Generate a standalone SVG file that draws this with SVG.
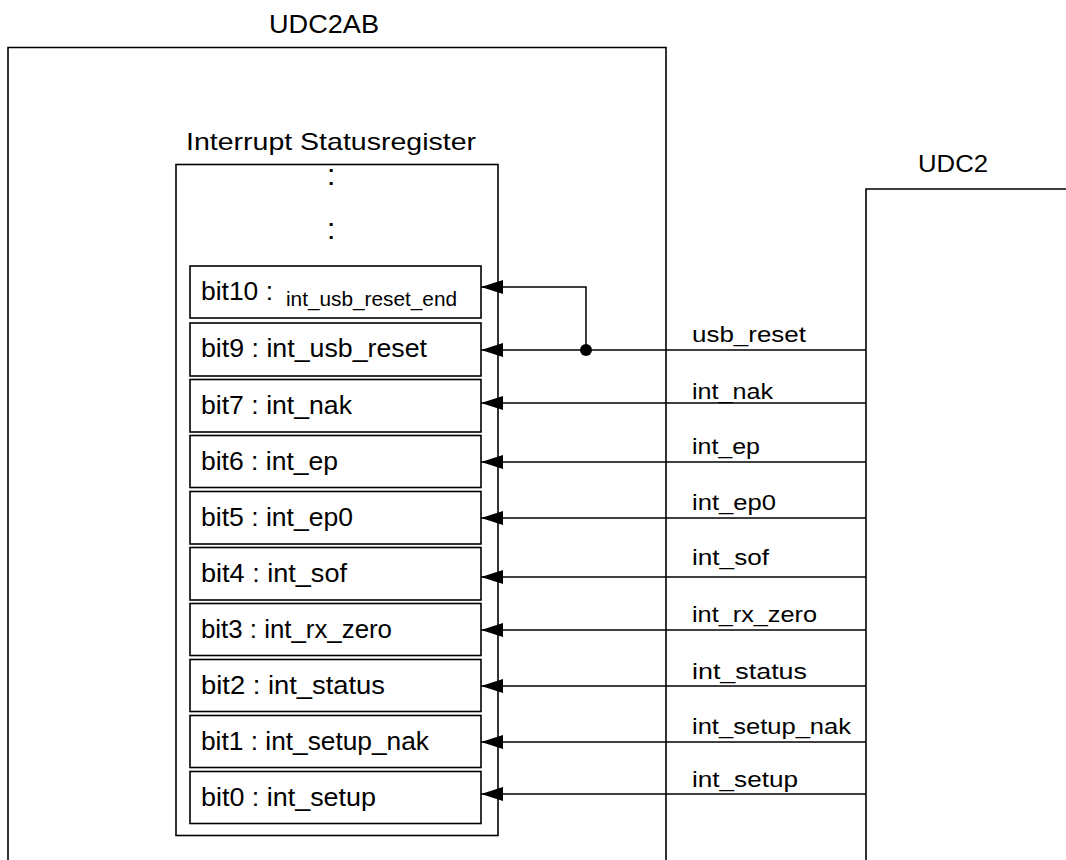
<svg xmlns="http://www.w3.org/2000/svg" width="1066" height="860" viewBox="0 0 1066 860">
<style>
.box{fill:none;stroke:#000;stroke-width:1.6}
.frame{fill:none;stroke:#000;stroke-width:1.6}
.wire{fill:none;stroke:#000;stroke-width:1.5;marker-end:url(#ah)}
.t{font-family:"Liberation Sans",Arial,sans-serif;fill:#000}
.bl{font-size:25px}
.sl{font-size:22px}
.ti{font-size:24px}
.sm{font-size:20px}
</style>
<defs>
<marker id="ah" markerUnits="userSpaceOnUse" markerWidth="22" markerHeight="14" viewBox="0 0 22 14" refX="22" refY="7" orient="auto">
<path d="M0,0 L22,7 L0,14 z" fill="#000"/>
</marker>
</defs>
<rect width="1066" height="860" fill="#fff"/>

<g id="udc2ab">
<path class="frame" d="M8,861 V47.5 H666 V861"/>
<text class="t" x="269" y="33" style="font-size:26px" textLength="110" lengthAdjust="spacingAndGlyphs">UDC2AB</text>
</g>

<g id="udc2">
<path class="frame" d="M866,861 V189 H1067"/>
<text class="t ti" x="918" y="172" textLength="70" lengthAdjust="spacingAndGlyphs">UDC2</text>
</g>

<g id="register">
<rect class="box" x="176" y="164.5" width="322" height="671"/>
<text class="t ti" x="186" y="150" textLength="290" lengthAdjust="spacingAndGlyphs">Interrupt Statusregister</text>
<text class="t" x="327" y="185" style="font-size:30px">:</text>
<text class="t" x="327" y="239" style="font-size:30px">:</text>
</g>

<g id="bit10">
<rect class="box" x="190" y="266" width="291" height="52"/>
<text class="t bl" x="201" y="300" textLength="72" lengthAdjust="spacingAndGlyphs">bit10 :</text>
<text class="t sm" x="286" y="306" textLength="171" lengthAdjust="spacingAndGlyphs">int_usb_reset_end</text>
</g>
<g id="bit9">
<rect class="box" x="190" y="323" width="291" height="53"/>
<text class="t bl" x="201" y="357" textLength="226" lengthAdjust="spacingAndGlyphs">bit9 : int_usb_reset</text>
</g>
<g id="bit7">
<rect class="box" x="190" y="379.5" width="291" height="52.5"/>
<text class="t bl" x="201" y="413.5" textLength="151" lengthAdjust="spacingAndGlyphs">bit7 : int_nak</text>
</g>
<g id="bit6">
<rect class="box" x="190" y="435.5" width="291" height="52"/>
<text class="t bl" x="201" y="469.5" textLength="137" lengthAdjust="spacingAndGlyphs">bit6 : int_ep</text>
</g>
<g id="bit5">
<rect class="box" x="190" y="491.5" width="291" height="52.5"/>
<text class="t bl" x="201" y="525.5" textLength="152" lengthAdjust="spacingAndGlyphs">bit5 : int_ep0</text>
</g>
<g id="bit4">
<rect class="box" x="190" y="547.5" width="291" height="52.5"/>
<text class="t bl" x="201" y="581.5" textLength="146" lengthAdjust="spacingAndGlyphs">bit4 : int_sof</text>
</g>
<g id="bit3">
<rect class="box" x="190" y="603.5" width="291" height="52"/>
<text class="t bl" x="201" y="637.5" textLength="191" lengthAdjust="spacingAndGlyphs">bit3 : int_rx_zero</text>
</g>
<g id="bit2">
<rect class="box" x="190" y="659.5" width="291" height="52"/>
<text class="t bl" x="201" y="693.5" textLength="184" lengthAdjust="spacingAndGlyphs">bit2 : int_status</text>
</g>
<g id="bit1">
<rect class="box" x="190" y="715.5" width="291" height="52"/>
<text class="t bl" x="201" y="749.5" textLength="228" lengthAdjust="spacingAndGlyphs">bit1 : int_setup_nak</text>
</g>
<g id="bit0">
<rect class="box" x="190" y="771.5" width="291" height="52"/>
<text class="t bl" x="201" y="805.5" textLength="175" lengthAdjust="spacingAndGlyphs">bit0 : int_setup</text>
</g>

<g id="connectors">
<path class="wire" d="M866,350 H481"/>
<path class="wire" d="M586,350 V287 H481"/>
<circle cx="586" cy="350" r="6" fill="#000"/>
<path class="wire" d="M866,403 H481"/>
<path class="wire" d="M866,462 H481"/>
<path class="wire" d="M866,518 H481"/>
<path class="wire" d="M866,577 H481"/>
<path class="wire" d="M866,630 H481"/>
<path class="wire" d="M866,686 H481"/>
<path class="wire" d="M866,742 H481"/>
<path class="wire" d="M866,794 H481"/>
<text class="t sl" x="692" y="342" textLength="114" lengthAdjust="spacingAndGlyphs">usb_reset</text>
<text class="t sl" x="692" y="398.5" textLength="81" lengthAdjust="spacingAndGlyphs">int_nak</text>
<text class="t sl" x="692" y="453.5" textLength="68" lengthAdjust="spacingAndGlyphs">int_ep</text>
<text class="t sl" x="692" y="510" textLength="84" lengthAdjust="spacingAndGlyphs">int_ep0</text>
<text class="t sl" x="692" y="565" textLength="77" lengthAdjust="spacingAndGlyphs">int_sof</text>
<text class="t sl" x="692" y="622" textLength="125" lengthAdjust="spacingAndGlyphs">int_rx_zero</text>
<text class="t sl" x="692" y="678.5" textLength="115" lengthAdjust="spacingAndGlyphs">int_status</text>
<text class="t sl" x="692" y="733.5" textLength="159" lengthAdjust="spacingAndGlyphs">int_setup_nak</text>
<text class="t sl" x="692" y="787" textLength="106" lengthAdjust="spacingAndGlyphs">int_setup</text>
</g>
</svg>
